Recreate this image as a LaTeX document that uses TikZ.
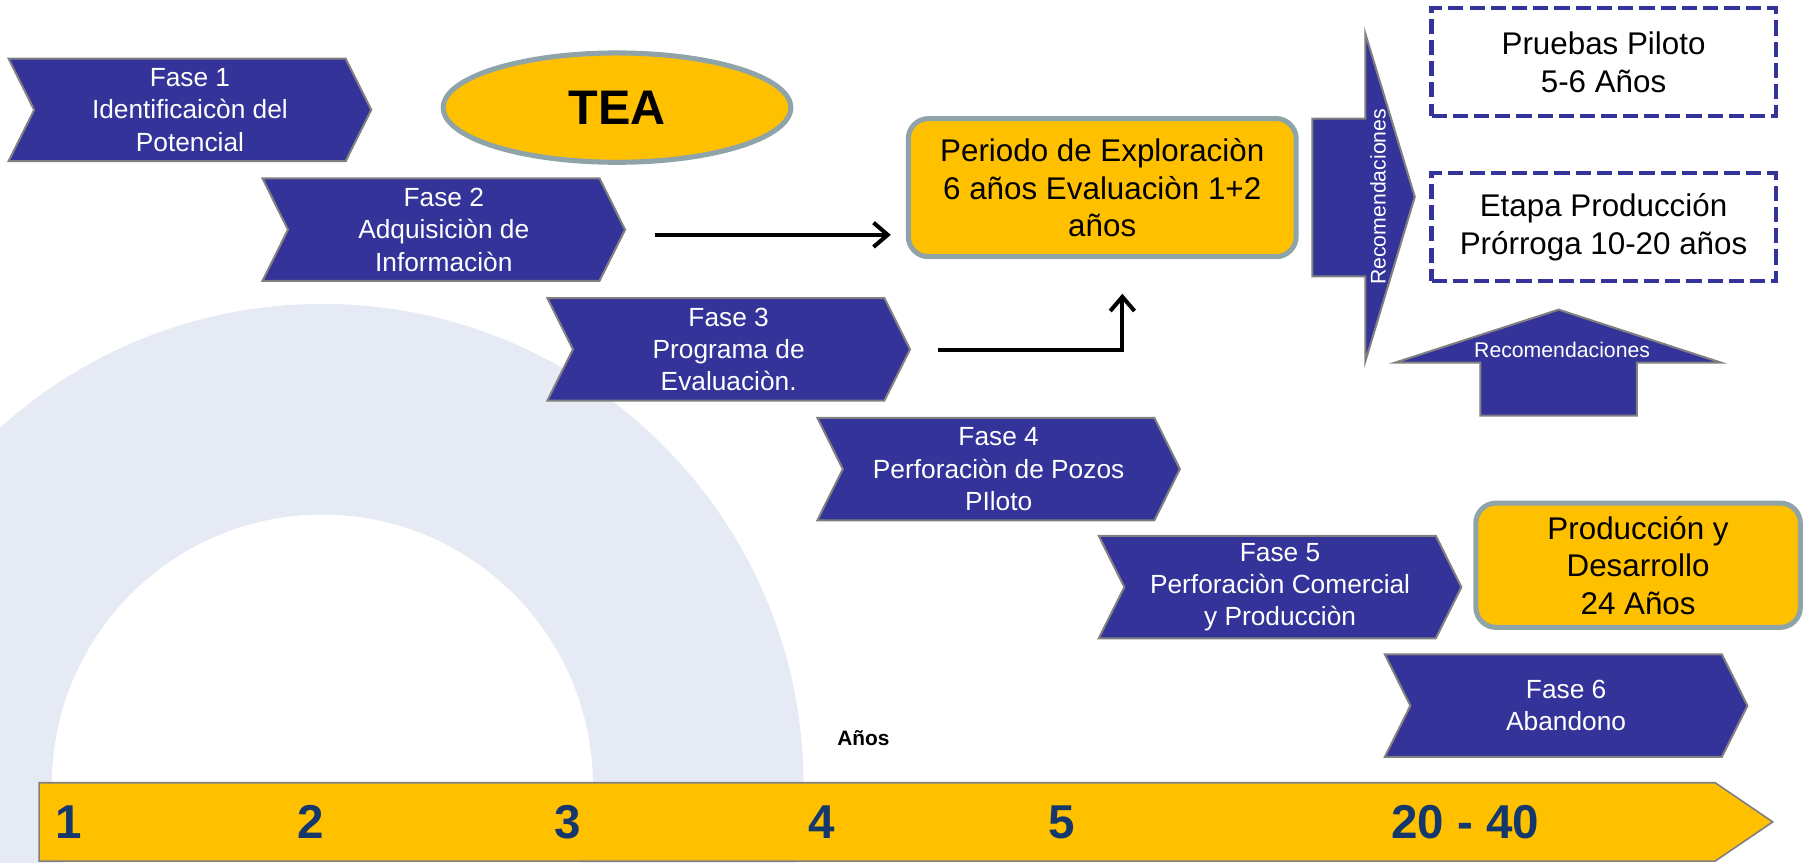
\documentclass[tikz,border=0pt]{standalone}
\usepackage{fontspec}
\setmainfont{Liberation Sans}
\usepackage{tikz}
\usetikzlibrary{shapes,arrows.meta,positioning,calc}

\definecolor{faseazul}{HTML}{333399}
\definecolor{amarillo}{HTML}{FFC000}
\definecolor{bordeverde}{HTML}{8EA4A8}
\definecolor{numazul}{HTML}{14386B}
\definecolor{fondo}{HTML}{E5EAF4}

\begin{document}
\begin{tikzpicture}[x=0.02cm, y=-0.02cm,
    fase/.style={signal, signal to=east, signal from=west, signal pointer angle=127,
        fill=faseazul, draw=gray, line width=1pt, text=white, align=center,
        minimum width=6.3cm, minimum height=1.78cm, inner sep=0pt,
        font=\fontsize{13}{16}\selectfont},
    caja/.style={rectangle, rounded corners=10pt, fill=amarillo, draw=bordeverde,
        line width=2.5pt, align=center, font=\fontsize{15.5}{18.5}\selectfont},
    etapa/.style={rectangle, draw=faseazul, line width=2pt, dash pattern=on 7.5pt off 3pt,
        align=center, minimum width=5.98cm, minimum height=1.88cm,
        font=\fontsize{15.5}{18.5}\selectfont},
    flecha/.style={-{Straight Barb[length=7pt,width=12pt]}, line width=2pt},
    num/.style={text=numazul, font=\fontsize{23.5}{26}\selectfont\bfseries},
    reco/.style={text=white, font=\fontsize{10.5}{12}\selectfont}]
    \useasboundingbox (0,0) rectangle (1568,749);

    % fondo
    \begin{scope}
        \clip (0,0) rectangle (1568,749);
        \fill[fondo, even odd rule] (280,682) circle [radius=418] (280,682) circle [radius=235];
    \end{scope}

    % barra de tiempo
    \draw[fill=amarillo, draw=gray, line width=0.8pt]
        (34,680) -- (1490,680) -- (1540,714) -- (1490,748) -- (34,748) -- cycle;
    \node[num] (n1) at (60,714) {1};
    \node[num] (n2) at (270,714) {2};
    \node[num] (n3) at (493,714) {3};
    \node[num] (n4) at (714,714) {4};
    \node[num] (n5) at (922,714) {5};
    \node[num] (n20) at (1273,714) {20 - 40};
    \node[font=\fontsize{10.3}{12}\selectfont\bfseries] (anos) at (750,641) {Años};

    % fases
    \node[fase] (f1) at (165,95.5) {Fase 1\\Identificaicòn del\\Potencial};
    \node[fase] (f2) at (385.5,199.5) {Fase 2\\Adquisiciòn de\\Informaciòn};
    \node[fase] (f3) at (633,303.5) {Fase 3\\Programa de\\Evaluaciòn.};
    \node[fase] (f4) at (867.5,407.5) {Fase 4\\Perforaciòn de Pozos\\PIloto};
    \node[fase] (f5) at (1112,510) {Fase 5\\Perforaciòn Comercial\\y Producciòn};
    \node[fase] (f6) at (1360.5,613) {Fase 6\\Abandono};

    \node[ellipse, fill=amarillo, draw=bordeverde, line width=2.5pt, inner sep=0pt,
        minimum width=6.04cm, minimum height=1.9cm,
        font=\fontsize{24}{28}\selectfont\bfseries] (tea) at (536,93.5) {TEA};

    \node[caja, minimum width=6.74cm, minimum height=2.4cm] (periodo) at (957.5,163)
        {Periodo de Exploraciòn\\6 años Evaluaciòn 1+2\\años};
    \node[caja, minimum width=5.64cm, minimum height=2.16cm] (produccion) at (1423,491)
        {Producción y\\Desarrollo\\24 Años};

    \node[etapa] (pruebas) at (1393,54) {Pruebas Piloto\\5-6 Años};
    \node[etapa] (prorroga) at (1393,197.5) {Etapa Producción\\Prórroga 10-20 años};

    % recomendaciones
    \draw[fill=faseazul, draw=gray, line width=1pt] (1140,103) -- (1186,103) -- (1186,29)
        -- (1229,171) -- (1186,314) -- (1186,240) -- (1140,240) -- cycle;
    \node[reco, rotate=90] (reco1) at (1197,171) {Recomendaciones};
    \draw[fill=faseazul, draw=gray, line width=1pt] (1212,315) -- (1354,269) -- (1495,315)
        -- (1422,315) -- (1422,361) -- (1286,361) -- (1286,315) -- cycle;
    \node[reco] (reco2) at (1357,304) {Recomendaciones};

    % flechas
    \coordinate (a2) at ($(f2.east)+(25,4.5)$);
    \draw[flecha, shorten >=0.26cm] (a2) -- (a2 -| periodo.west);
    \coordinate (a3) at ($(f3.east)+(23,0.5)$);
    \draw[flecha, shorten >=0.6cm] (a3) -| ([xshift=0.35cm]periodo.south);
\end{tikzpicture}
\end{document}
